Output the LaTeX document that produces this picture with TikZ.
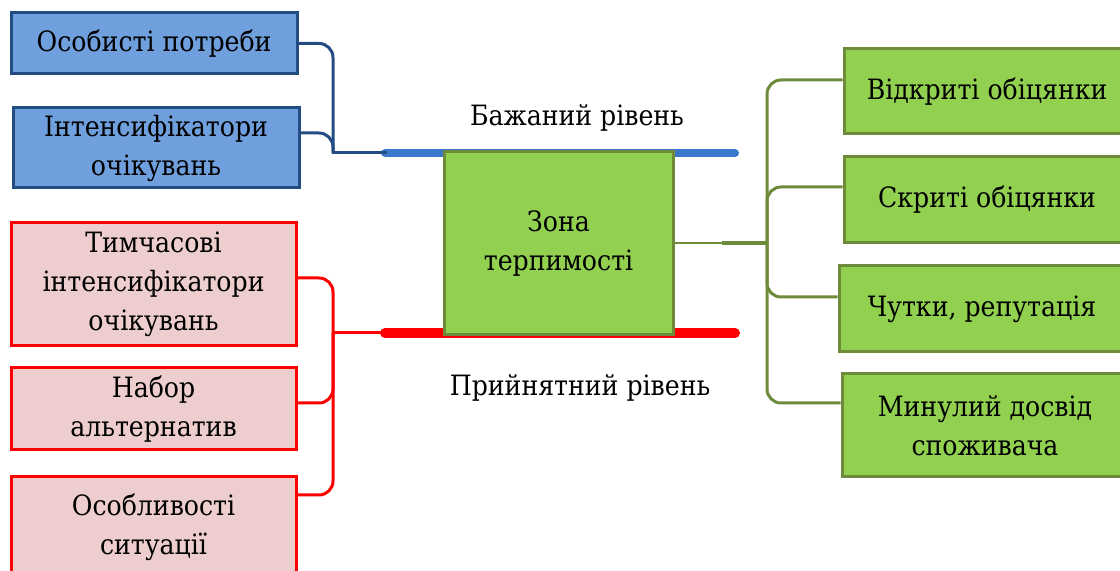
\documentclass[tikz,border=0pt]{standalone}
\usepackage{fontspec}
\IfFontExistsTF{DejaVu Serif Condensed}{\setmainfont{DejaVu Serif Condensed}}{\setmainfont{DejaVu Serif}}
\definecolor{bdblue}{HTML}{224C82}
\definecolor{fblue}{HTML}{6F9FDC}
\definecolor{lblue}{HTML}{3A78CC}
\definecolor{bdred}{HTML}{FF0000}
\definecolor{fred}{HTML}{EDCDCD}
\definecolor{bdgreen}{HTML}{6E8A3B}
\definecolor{fgreen}{HTML}{92D050}
\begin{document}
\begin{tikzpicture}[x=0.5pt,y=-0.5pt,
  font=\fontsize{14}{19.5}\selectfont,
  box/.style={rectangle, line width=1.5pt, align=center, inner sep=0pt},
  bluebox/.style={box, draw=bdblue, fill=fblue, minimum width=143pt},
  redbox/.style={box, draw=bdred, fill=fred, minimum width=142.5pt},
  greenbox/.style={box, draw=bdgreen, fill=fgreen, minimum width=143pt},
  bluecon/.style={draw=bdblue, line width=1.5pt, rounded corners=7pt},
  redcon/.style={draw=bdred, line width=1.5pt, rounded corners=7pt},
  greencon/.style={draw=bdgreen, line width=1.5pt, rounded corners=7pt},
  levelblue/.style={draw=lblue, line width=4pt, line cap=round},
  levelred/.style={draw=bdred, line width=5pt, line cap=round},
  lbl/.style={inner sep=0pt}]
\useasboundingbox (0,0) rectangle (1120,571);

% level lines
\coordinate (bl) at (385,153);
\coordinate (br) at (735,153);
\coordinate (rl) at (385,333);
\coordinate (rr) at (735,333);
\draw[levelblue] (bl) -- (br);
\draw[levelred] (rl) -- (rr);

% junctions
\coordinate (jb) at (333,153);
\coordinate (jr) at (333,333);
\coordinate (hs) at (722,243.5);
\coordinate (hub) at (767,243.5);

% centre
\node[greenbox, minimum width=114.5pt, minimum height=91.5pt] (cz) at (558.5,243.5) {Зона\\терпимості};
\node[lbl] (des) at (577,118) {Бажаний рівень};
\node[lbl] (acc) at (580,388) {Прийнятний рівень};

% left blue
\node[bluebox, minimum height=30.5pt] (b1) at (154,43.5) {Особисті потреби};
\node[bluebox, minimum height=40pt] (b2) at (156,148) {Інтенсифікатори\\очікувань};

% left red
\node[redbox, minimum height=61.5pt] (r1) at (153.5,284.5) {Тимчасові\\інтенсифікатори\\очікувань};
\node[redbox, minimum height=41pt] (r2) at (153.5,409) {Набор\\альтернатив};
\node[redbox, minimum height=50pt] (r3) at (153.5,527) {Особливості\\ситуації};

% right green
\node[greenbox, minimum height=42.5pt] (g1) at (987,91.5) {Відкриті обіцянки};
\node[greenbox, minimum height=43pt] (g2) at (987,200) {Скриті обіцянки};
\node[greenbox, minimum height=43pt] (g3) at (982,309) {Чутки, репутація};
\node[greenbox, minimum height=51.5pt] (g4) at (985,425.5) {Минулий досвід\\споживача};

% blue connectors
\draw[bluecon] (b1.east) -| (jb);
\draw[bluecon] ([yshift=7.5pt]b2.east) -| (jb);
\draw[bluecon, line cap=rect] (jb) -- (bl);

% red connectors
\draw[redcon] ([yshift=3.25pt]r1.east) -| (jr);
\draw[redcon] ([yshift=3pt]r2.east) -| (jr);
\draw[redcon] ([yshift=16pt]r3.east) -| (jr);
\draw[redcon, line cap=rect] (jr) -- (rl);

% green connectors
\draw[greencon, line width=1pt] (cz.east) -- (hs);
\draw[greencon, line width=2pt] (hs) -- (hub);
\draw[greencon] (hub) |- ([yshift=5.75pt]g1.west);
\draw[greencon] (hub) |- ([yshift=6.5pt]g2.west);
\draw[greencon] (hub) |- ([yshift=6pt]g3.west);
\draw[greencon] (hub) |- ([yshift=11.25pt]g4.west);
\end{tikzpicture}
\end{document}
